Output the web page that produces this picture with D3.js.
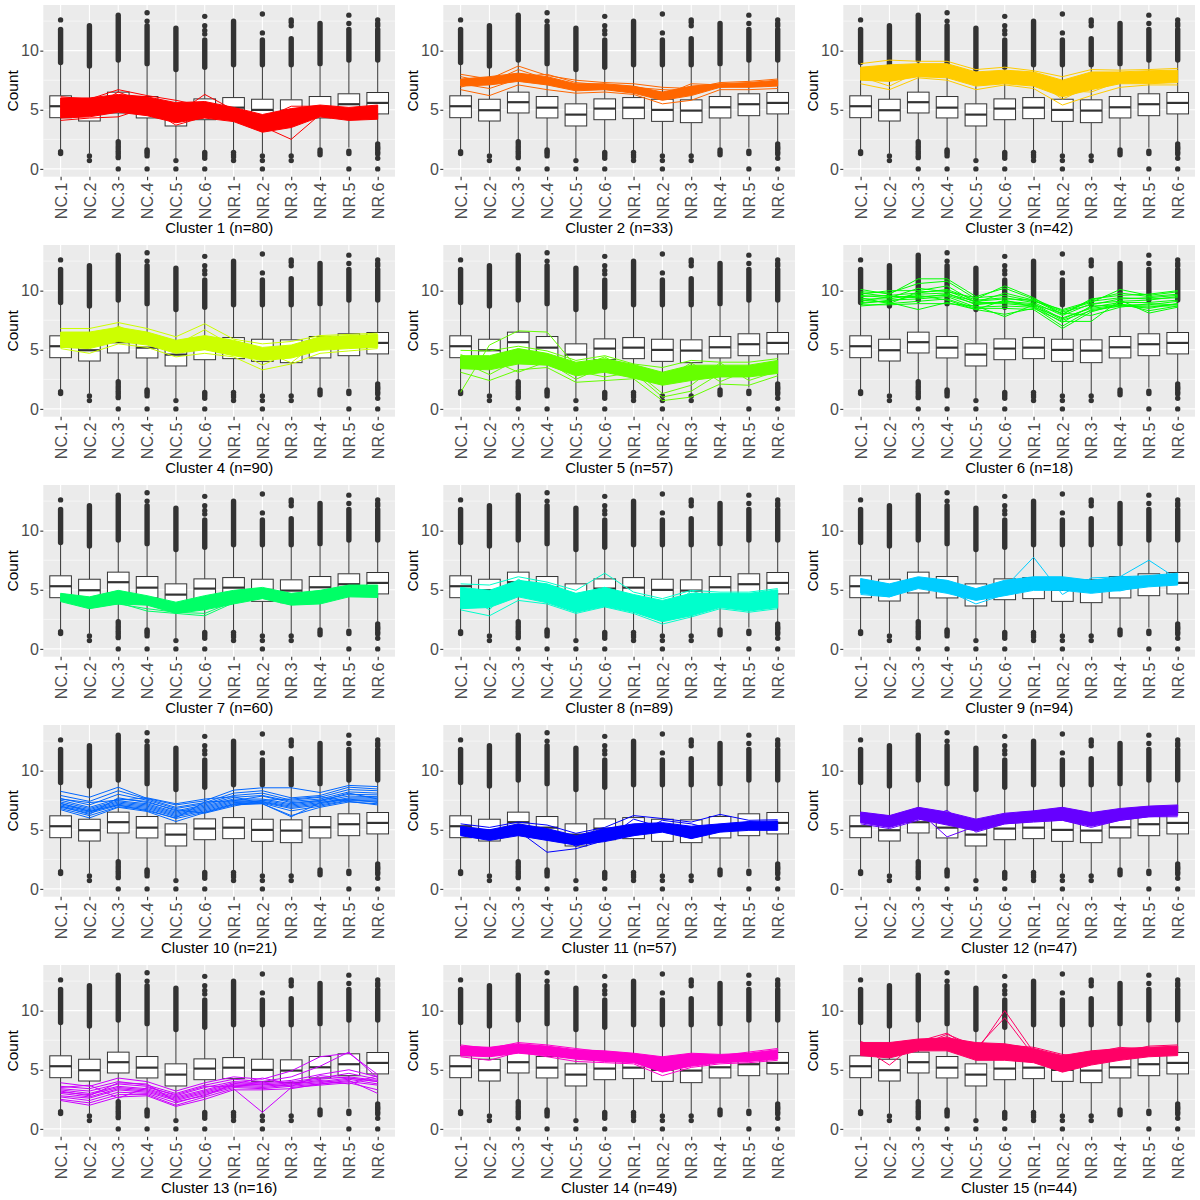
<!DOCTYPE html>
<html><head><meta charset="utf-8">
<script src="https://cdn.jsdelivr.net/npm/d3@7"></script>
<style>body{margin:0;background:#fff;} text{font-family:"Liberation Sans",Arial,sans-serif;}</style>
</head><body>
<script>
// ---------- data ----------
const samples = ["NC.1","NC.2","NC.3","NC.4","NC.5","NC.6","NR.1","NR.2","NR.3","NR.4","NR.5","NR.6"];
const yTicks = [0, 5, 10];
const yMinor = [2.5, 7.5, 12.5];

// boxplot statistics per sample (same in every panel)
const boxQ1  = [4.33,4.05,4.73,4.31,3.63,4.16,4.25,4.02,3.91,4.31,4.50,4.65];
const boxMed = [5.30,4.96,5.64,5.18,4.59,5.10,5.18,4.99,4.93,5.21,5.47,5.58];
const boxQ3  = [6.18,5.89,6.49,6.12,5.50,5.92,6.03,5.89,5.84,6.12,6.35,6.46];
const whiskLo = [1.6,1.3,2.4,1.7,0.9,1.6,1.6,1.3,1.2,1.7,1.8,2.2];
const whiskHi = [8.9,8.6,9.1,8.8,8.3,8.5,8.7,8.7,8.7,8.8,9.1,9.1];
// dense runs of high outliers (overlapping points) and isolated outliers
const outDenseFrom = [9.0,8.7,9.2,8.9,8.4,8.6,8.8,8.8,8.8,8.9,9.2,9.2];
const outDenseTo   = [11.8,12.1,12.8,12.1,11.9,10.9,12.5,10.9,11.0,12.3,11.8,11.8];
const outHighSingles = [[12.6],[],[13.0],[12.5,13.2],[],[11.4,11.7,12.1,12.9],[],[11.5,13.1],[12.1,12.4,12.6],[],[12.3,13.0],[12.1,12.3,12.6]];
const outLow = [[1.45,1.3],[1.1,0.7],[2.3,2.1,1.9,1.7,1.5,1.3,1.1,0.95,0],[1.6,1.45,1.3,1.1,0],[0.7,0],[1.4,1.25,1.1,0.9,0],
                [1.4,1.2,1.0,0.7],[1.1,0.7,0],[1.1,0.7],[1.6,1.4,1.2],[1.5,1.3,0],[2.1,1.9,1.75,1.6,1.4,1.25,0.9,0]];

const clusterSizes = [80,33,42,90,57,18,60,89,94,21,57,47,16,49,44];
const clusterColors = ["#FF0000","#FF6600","#FFCC00","#CCFF00","#66FF00","#00FF00","#00FF66","#00FFCC","#00CCFF","#0066FF","#0000FF","#6600FF","#CC00FF","#FF00CC","#FF0066"];

// dense core of each cluster's profiles (lower / upper edge), null where lines are sparse
const bandLow = [
  [4.3,4.4,4.8,4.5,3.9,4.3,4.0,3.1,3.5,4.4,4.1,4.2],
  [7.0,7.1,7.4,7.1,6.6,6.7,6.4,5.8,6.2,6.9,6.9,7.0],
  [7.5,7.4,7.8,7.7,7.0,7.2,7.0,6.1,6.7,7.2,7.2,7.3],
  [5.2,5.1,5.7,5.4,4.7,5.0,4.5,4.1,4.3,4.95,5.1,5.2],
  [3.4,3.3,3.8,3.7,2.8,3.1,2.6,2.0,2.4,2.7,2.7,3.0],
  null,
  [4.0,3.4,3.8,3.7,3.0,3.3,3.8,4.25,3.7,3.8,4.4,4.35],
  [3.4,3.5,4.4,3.9,3.1,3.6,3.1,2.3,2.8,3.5,3.2,3.5],
  [4.7,4.4,5.1,4.7,4.1,4.5,4.95,4.95,4.7,4.95,5.25,5.4],
  null,
  [4.5,4.1,4.5,4.1,3.7,4.0,4.5,4.8,4.25,4.8,4.95,4.95],
  [5.6,5.2,5.9,5.4,4.9,5.5,5.7,5.8,5.3,5.8,6.1,6.2],
  null,
  [6.2,6.1,6.4,6.2,5.9,5.7,5.6,4.8,5.3,5.6,5.7,5.9],
  [6.2,6.0,6.6,6.6,5.8,5.8,5.6,4.8,5.4,5.8,6.1,6.2]
];
const bandHigh = [
  [6.0,6.0,6.3,6.1,5.6,5.7,5.2,4.6,5.1,5.4,5.2,5.4],
  [7.6,7.8,8.1,7.8,7.2,7.2,7.0,6.5,7.0,7.2,7.3,7.5],
  [8.6,8.8,8.9,8.9,8.2,8.35,8.2,7.5,8.2,8.2,8.3,8.35],
  [6.5,6.5,6.9,6.5,5.8,6.2,5.8,5.2,5.4,6.1,6.2,6.3],
  [4.5,4.5,5.1,4.7,3.95,4.25,3.75,3.1,3.7,3.7,3.7,4.1],
  null,
  [4.7,4.4,4.95,4.5,3.95,4.5,4.95,5.2,4.7,4.95,5.4,5.4],
  [5.2,4.95,5.8,5.5,4.7,5.2,4.6,4.1,4.7,4.7,4.7,5.0],
  [5.95,5.5,6.1,5.8,5.1,5.8,6.1,6.1,5.8,6.1,6.2,6.4],
  null,
  [5.3,5.0,5.5,5.1,4.5,5.1,5.5,5.6,5.3,5.5,5.7,5.75],
  [6.5,6.2,6.9,6.5,5.9,6.4,6.6,6.9,6.45,6.8,7.0,7.1],
  null,
  [7.0,6.9,7.2,7.0,6.7,6.6,6.4,6.1,6.4,6.3,6.4,6.7],
  [7.3,7.3,7.6,7.7,7.3,7.2,6.8,6.2,6.6,6.8,6.9,7.0]
];
// individual profiles visible outside / across the core
const traces = [
  [[6.1,5.9,6.7,6.2,5.8,5.3,4.9,4.3,4.9,5.2,5.0,5.3],[4.1,4.3,4.4,5.2,3.7,4.4,4.4,3.4,3.9,5.0,4.2,4.5],[5.2,5.6,5.0,5.9,4.6,6.3,5.0,4.2,5.3,5.3,4.6,5.0],
   [5.6,5.4,5.5,5.4,4.3,5.1,4.6,3.6,2.5,4.6,5.0,4.8],[4.8,5.1,6.5,5.6,5.0,4.6,4.1,3.2,3.8,4.9,4.4,5.2],[5.0,4.6,5.9,4.9,4.2,5.4,4.8,3.8,4.6,5.1,4.7,4.5]],
  [[8.0,7.6,8.7,7.9,7.5,7.3,7.2,6.9,6.8,7.3,7.4,7.6],[6.7,6.2,7.1,6.7,6.4,6.5,6.3,5.5,5.8,6.7,6.7,6.8],[7.8,7.3,8.4,7.6,7.0,7.0,6.8,6.2,7.2,7.1,7.2,7.3],
   [6.9,7.7,7.8,8.0,7.3,7.1,6.6,6.0,6.4,7.0,7.0,7.1],[7.2,6.8,7.6,7.5,6.8,6.8,6.9,6.7,6.6,6.9,7.1,7.4]],
  [[8.9,9.2,9.1,9.1,8.4,8.6,8.3,7.8,8.4,8.35,8.4,8.5],[7.2,6.7,7.7,7.5,6.7,7.1,6.8,5.4,6.2,6.9,7.1,7.1],[8.0,8.5,8.6,8.3,7.6,7.7,7.6,5.9,7.0,7.5,7.6,7.7],
   [7.8,7.0,8.2,8.6,7.3,8.0,7.3,7.2,7.6,7.8,7.7,7.9],[8.3,7.9,8.8,8.0,7.9,7.5,7.9,6.6,6.5,7.4,8.0,7.6]],
  [[6.8,6.8,7.3,6.8,6.1,7.2,5.9,5.5,5.7,6.2,6.3,6.4],[5.1,4.7,5.5,5.2,4.4,4.7,4.4,3.3,3.8,4.7,4.9,5.1],[6.2,5.9,6.6,6.3,5.4,6.7,5.3,4.6,4.5,5.6,5.8,5.9],
   [5.6,6.3,6.2,5.8,5.1,5.4,5.0,3.7,4.8,5.3,5.5,5.7],[5.9,5.4,7.0,6.0,5.6,5.8,5.5,4.9,3.9,5.8,5.7,6.0]],
  [[1.4,5.4,6.6,6.5,3.6,4.0,3.5,2.6,3.0,3.4,3.6,3.8],[4.95,4.9,5.3,4.9,4.1,4.5,3.8,3.5,4.1,3.95,3.95,4.25],[3.1,2.4,3.3,3.5,2.25,2.4,2.55,0.7,1.0,2.1,2.0,2.8],
   [4.0,2.9,4.2,4.1,3.2,2.7,3.1,1.0,1.5,3.0,3.2,3.6],[3.8,4.2,3.1,4.0,2.5,3.6,3.3,1.3,2.0,3.9,2.4,3.2],[4.6,3.6,4.8,3.9,3.5,4.4,3.0,2.4,3.9,2.3,3.3,3.3]],
  [[10.1,9.7,11.0,11.0,9.5,10.2,9.3,8.3,9.0,10.1,9.6,9.9],[9.9,9.8,10.6,10.8,9.3,10.4,9.4,8.0,9.3,9.6,9.7,10.0],[9.7,10.0,10.0,10.4,9.0,9.8,9.2,8.2,8.8,9.3,9.4,9.6],
   [9.5,9.6,9.8,10.1,9.2,9.4,9.0,7.9,8.9,9.1,9.2,9.5],[9.3,9.3,9.7,9.8,8.8,9.1,8.9,7.6,8.6,9.0,9.0,9.2],[9.1,9.5,9.5,9.6,8.9,8.9,8.7,7.3,8.7,8.8,8.8,9.1],
   [8.9,9.2,9.3,9.5,8.6,8.7,8.6,7.0,8.4,8.7,8.6,8.9],[8.7,8.9,9.1,9.3,8.5,8.5,8.4,6.8,8.2,8.9,8.3,8.7],[9.2,9.0,8.4,9.0,8.4,8.0,8.5,7.4,7.4,9.2,8.1,8.6],
   [8.8,8.8,8.9,8.9,8.7,7.8,8.8,8.1,7.9,8.6,8.9,8.8],[9.6,9.4,10.2,9.9,9.4,9.6,9.1,8.4,9.1,9.4,9.3,9.4],[9.0,9.1,9.6,9.2,8.4,9.2,8.6,7.7,8.5,8.8,8.5,8.9],
   [9.8,9.5,9.4,9.7,9.1,9.3,9.2,8.0,9.2,9.8,9.5,9.7],[9.4,8.9,9.9,10.0,9.0,9.0,8.8,7.5,8.3,8.7,8.7,8.7]],
  [[4.3,3.7,3.9,3.2,3.0,2.8,3.9,4.4,4.0,4.4,4.8,4.9],[4.2,3.6,3.8,3.4,3.1,3.0,4.0,4.6,4.2,4.1,4.9,4.6],[4.5,4.1,4.6,4.2,3.5,4.2,4.6,4.9,4.5,4.6,5.2,5.1]],
  [[5.5,5.4,6.1,5.65,4.95,6.4,4.8,4.25,4.95,4.8,4.8,5.1],[3.3,2.8,4.1,3.8,3.0,3.55,3.0,2.1,2.7,3.4,3.1,3.4],[4.8,3.3,5.9,4.5,3.4,5.2,4.2,3.0,4.9,4.1,3.4,3.7],
   [3.6,4.5,4.8,5.2,4.5,4.0,3.5,3.6,3.2,4.4,4.5,4.3]],
  [[5.4,5.1,5.6,5.3,4.6,5.2,7.75,4.6,6.0,6.1,7.5,5.9],[4.6,4.4,5.3,4.9,3.8,4.6,5.4,5.2,5.0,4.9,5.5,5.7]],
  [[8.25,7.75,8.6,7.65,7.1,7.45,8.35,8.55,8.55,8.15,8.75,8.65],[7.9,7.4,8.3,7.6,6.9,7.3,8.1,8.3,7.7,7.9,8.6,8.45],[7.65,7.1,8.0,7.5,6.8,7.2,7.9,8.1,7.5,7.75,8.4,8.3],
   [7.5,6.9,7.6,7.4,6.6,7.1,7.75,7.9,7.4,7.6,8.2,8.1],[7.35,6.8,7.45,7.2,6.5,7.0,7.6,7.6,7.2,7.5,8.0,7.95],[7.2,6.7,7.35,7.1,6.4,6.9,7.5,7.5,7.1,7.4,7.85,7.8],
   [7.1,6.6,7.25,7.0,6.3,6.8,7.4,7.4,7.0,7.3,7.7,7.7],[7.0,6.5,7.15,6.9,6.2,6.7,7.3,7.35,6.9,7.2,7.6,7.6],[6.9,6.4,7.05,6.8,6.1,6.6,7.2,7.3,6.8,7.1,7.5,7.5],
   [6.8,6.2,6.95,6.7,5.95,6.5,7.15,7.25,6.6,7.0,7.45,7.4],[6.7,6.0,6.9,6.55,5.7,6.45,7.1,7.2,6.2,6.9,7.35,7.2],[7.6,7.3,7.5,7.7,7.2,7.6,7.8,7.2,6.1,7.3,7.6,7.3],
   [7.0,6.3,7.7,7.3,6.7,6.4,7.0,7.5,7.6,7.8,7.4,7.1],[7.25,6.55,7.1,6.6,6.0,7.35,7.45,7.85,7.3,7.45,8.1,7.6]],
  [[5.5,5.2,5.65,5.4,4.7,5.2,6.2,5.95,5.65,6.3,5.8,5.85],[4.8,4.3,4.9,3.1,3.4,4.1,5.9,5.2,4.3,5.0,5.2,5.3],[5.0,4.6,5.3,4.9,3.6,4.6,4.5,5.8,5.5,4.9,5.5,5.6]],
  [[6.4,5.9,6.6,4.4,5.3,6.0,6.3,6.5,6.0,6.4,6.6,6.7],[5.5,5.1,5.8,6.65,4.8,5.5,5.65,5.8,5.2,5.8,6.1,6.1]],
  [[3.9,3.6,4.3,4.0,3.2,3.9,4.4,4.2,4.9,6.1,6.4,4.6],[3.6,3.4,4.0,3.7,3.0,3.7,4.2,4.0,4.4,5.3,6.5,4.3],[3.4,3.2,3.8,3.6,2.8,3.5,4.0,3.9,4.1,4.6,5.0,4.4],
   [3.3,3.0,3.6,3.4,2.7,3.3,3.9,3.8,4.0,4.3,4.7,4.2],[3.1,2.9,3.5,3.3,2.6,3.2,3.8,3.7,3.9,4.2,4.4,4.1],[3.0,2.7,3.4,3.2,2.5,3.1,3.7,3.6,3.8,4.0,4.3,4.0],
   [2.8,2.6,3.3,3.1,2.4,3.0,3.6,3.5,3.7,3.9,4.2,3.8],[2.7,2.4,3.1,3.0,2.2,2.9,3.5,3.4,3.6,3.8,4.0,3.7],[2.5,2.2,2.9,2.9,2.0,2.7,3.4,1.4,3.5,3.7,3.9,3.3],
   [2.4,2.0,2.7,2.8,1.9,2.5,3.3,3.3,3.4,3.8,4.1,3.0],[3.5,3.7,2.6,3.5,2.9,3.6,3.6,3.8,3.6,4.5,4.3,4.0],[3.2,2.8,3.9,3.8,2.3,2.8,3.8,4.3,3.8,4.1,3.8,4.5]],
  [[6.1,5.8,6.5,6.1,5.7,5.6,5.5,4.5,5.2,5.5,5.6,5.8],[7.1,6.8,7.3,7.1,6.8,6.5,6.3,5.6,6.1,6.2,6.5,6.8]],
  [[7.0,5.4,7.4,8.1,6.5,10.0,6.5,5.5,6.2,6.6,6.6,6.8],[6.9,6.6,7.2,7.8,6.8,9.4,6.2,5.2,6.4,6.9,6.7,6.7],[7.4,6.5,7.0,8.0,7.0,7.1,6.9,6.3,6.0,6.5,7.0,7.1]]
];

// ---------- drawing ----------
const W = 1200, H = 1200, PW = 400, PH = 240;
const L = 43.3, R = 395, T = 5, B = 176.7;
const FONT = "'Liberation Sans',Arial,sans-serif";
const svg = d3.select("body").append("svg").attr("width", W).attr("height", H);

const x = d3.scalePoint().domain(samples).range([L, R]).padding(0.6);
const y = d3.scaleLinear().domain([-0.66, 13.86]).range([B, T]);
const boxW = x.step() * 0.75;

const lineGen = d3.line().x((d, i) => x(samples[i])).y(d => y(d));
const areaGen = d3.area().x((d, i) => x(samples[i])).y0(d => y(d[0])).y1(d => y(d[1]));

clusterSizes.forEach((n, k) => {
  const col = k % 3, row = Math.floor(k / 3);
  const g = svg.append("g").attr("transform", `translate(${col * PW},${row * PH})`);
  const color = clusterColors[k];

  g.append("rect").attr("x", L).attr("y", T).attr("width", R - L).attr("height", B - T).attr("fill", "#EBEBEB");
  g.selectAll(".minor").data(yMinor).join("line")
    .attr("x1", L).attr("x2", R).attr("y1", d => y(d)).attr("y2", d => y(d))
    .attr("stroke", "#fff").attr("stroke-width", 0.55);
  g.selectAll(".majorY").data(yTicks).join("line")
    .attr("x1", L).attr("x2", R).attr("y1", d => y(d)).attr("y2", d => y(d))
    .attr("stroke", "#fff").attr("stroke-width", 1.1);
  g.selectAll(".majorX").data(samples).join("line")
    .attr("x1", d => x(d)).attr("x2", d => x(d)).attr("y1", T).attr("y2", B)
    .attr("stroke", "#fff").attr("stroke-width", 1.1);

  // boxplots
  const bx = g.append("g");
  samples.forEach((s, i) => {
    const cx = x(s);
    bx.append("line").attr("x1", cx).attr("x2", cx).attr("y1", y(boxQ3[i])).attr("y2", y(whiskHi[i])).attr("stroke", "#333").attr("stroke-width", 1);
    bx.append("line").attr("x1", cx).attr("x2", cx).attr("y1", y(boxQ1[i])).attr("y2", y(whiskLo[i])).attr("stroke", "#333").attr("stroke-width", 1);
    bx.append("line").attr("x1", cx).attr("x2", cx).attr("y1", y(outDenseFrom[i])).attr("y2", y(outDenseTo[i]))
      .attr("stroke", "#333").attr("stroke-width", 5.4).attr("stroke-linecap", "round");
    outHighSingles[i].concat(outLow[i]).forEach(v => {
      bx.append("circle").attr("cx", cx).attr("cy", y(v)).attr("r", 2.7).attr("fill", "#333");
    });
    bx.append("rect").attr("x", cx - boxW / 2).attr("width", boxW)
      .attr("y", y(boxQ3[i])).attr("height", y(boxQ1[i]) - y(boxQ3[i]))
      .attr("fill", "#fff").attr("stroke", "#333").attr("stroke-width", 1);
    bx.append("line").attr("x1", cx - boxW / 2).attr("x2", cx + boxW / 2).attr("y1", y(boxMed[i])).attr("y2", y(boxMed[i]))
      .attr("stroke", "#333").attr("stroke-width", 2.2);
  });

  // cluster profiles
  if (bandLow[k]) {
    const band = bandLow[k].map((v, i) => [v, bandHigh[k][i]]);
    g.append("path").attr("d", areaGen(band)).attr("fill", color).attr("stroke", color).attr("stroke-width", 1);
  }
  traces[k].forEach(t => {
    g.append("path").attr("d", lineGen(t)).attr("fill", "none").attr("stroke", color).attr("stroke-width", 1);
  });

  // axes
  const ya = g.append("g").attr("transform", `translate(${L},0)`)
    .call(d3.axisLeft(y).tickValues(yTicks).tickSize(3).tickPadding(1.5));
  ya.select(".domain").remove();
  ya.selectAll("line").attr("stroke", "#333").attr("stroke-width", 1.1);
  ya.selectAll("text").attr("fill", "#4D4D4D").style("font-size", "16px").style("font-family", FONT);

  const xa = g.append("g").attr("transform", `translate(0,${B})`)
    .call(d3.axisBottom(x).tickSize(3.5).tickPadding(2.5));
  xa.select(".domain").remove();
  xa.selectAll("line").attr("stroke", "#333").attr("stroke-width", 1.1);
  xa.selectAll("text").attr("fill", "#4D4D4D").style("font-size", "16px").style("font-family", FONT)
    .attr("transform", "rotate(-90)").attr("text-anchor", "end")
    .attr("x", -6).attr("y", 0).attr("dy", "0.35em");

  g.append("text").attr("x", (L + R) / 2).attr("y", 233).attr("text-anchor", "middle")
    .style("font-size", "15px").style("font-family", FONT).attr("fill", "#000").text(`Cluster ${k + 1} (n=${n})`);
  g.append("text").attr("transform", `translate(17.5,${(T + B) / 2}) rotate(-90)`).attr("text-anchor", "middle")
    .style("font-size", "15.5px").style("font-family", FONT).attr("fill", "#000").text("Count");
});
</script>
</body></html>
